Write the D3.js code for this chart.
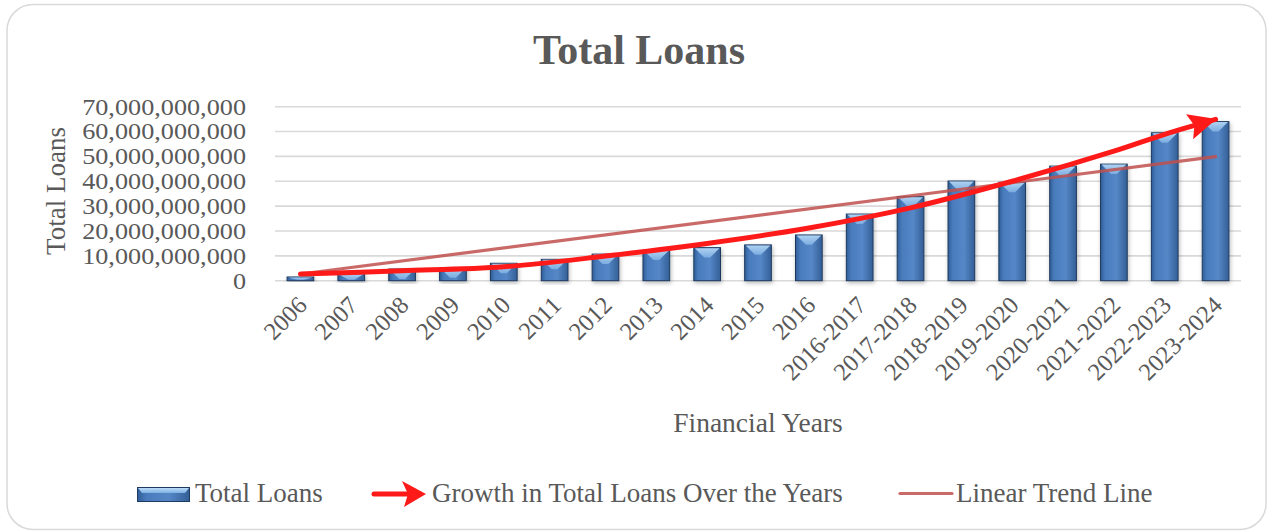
<!DOCTYPE html>
<html><head><meta charset="utf-8">
<script src="https://cdn.jsdelivr.net/npm/d3@7"></script>
<style>
body{margin:0;background:#fff}
svg{display:block}
text{font-family:"Liberation Serif","Times New Roman",serif;fill:#595959}
</style>
</head><body>
<svg id="c" width="1268" height="531"></svg>
<script>
// ---- data ----
const categories = ["2006","2007","2008","2009","2010","2011","2012","2013","2014","2015","2016",
  "2016-2017","2017-2018","2018-2019","2019-2020","2020-2021","2021-2022","2022-2023","2023-2024"];
const loans = [1.5e9, 2.8e9, 4.7e9, 5.2e9, 7.0e9, 8.6e9, 10.7e9, 12.3e9, 13.3e9, 14.4e9, 18.4e9,
  26.8e9, 33.8e9, 40.1e9, 39.6e9, 46.1e9, 46.9e9, 59.5e9, 64.0e9];
const growthIndex  = [0, 2, 4, 6, 8, 10, 12, 14, 16, 17, 18];
const growthValues = [2.7e9, 4.0e9, 5.6e9, 9.9e9, 15.0e9, 21.2e9, 29.3e9, 40.0e9, 52.1e9, 58.9e9, 64.9e9];
const trendIndex  = [0, 18];
const trendValues = [2.7e9, 49.9e9];
const yTicks = [0, 1e10, 2e10, 3e10, 4e10, 5e10, 6e10, 7e10];
const title = "Total Loans";
const yTitle = "Total Loans";
const xTitle = "Financial Years";
const legendLabels = ["Total Loans", "Growth in Total Loans Over the Years", "Linear Trend Line"];

// ---- layout ----
const svg = d3.select("#c");
const plot = {left: 275, right: 1241, top: 106.7, bottom: 280.7};
const x = d3.scaleBand().domain(categories).range([plot.left, plot.right]).paddingInner(0.475).paddingOuter(0.2375);
const xc = i => x(categories[i]) + x.bandwidth() / 2;
const y = d3.scaleLinear().domain([0, 7e10]).range([plot.bottom, plot.top]);

const defs = svg.append("defs");
const g1 = defs.append("linearGradient").attr("id", "barGrad").attr("x1", 0).attr("x2", 1).attr("y1", 0).attr("y2", 0);
g1.append("stop").attr("offset", "0%").attr("stop-color", "#2f5e98");
g1.append("stop").attr("offset", "18%").attr("stop-color", "#4a7cbd");
g1.append("stop").attr("offset", "60%").attr("stop-color", "#5587c7");
g1.append("stop").attr("offset", "100%").attr("stop-color", "#345f96");
const g2 = defs.append("linearGradient").attr("id", "bevGrad").attr("x1", 0).attr("x2", 0).attr("y1", 0).attr("y2", 1);
g2.append("stop").attr("offset", "0%").attr("stop-color", "#b9dbf7");
g2.append("stop").attr("offset", "100%").attr("stop-color", "#7fb0e3");
const f = defs.append("filter").attr("id", "shadow").attr("x", "-30%").attr("y", "-10%").attr("width", "160%").attr("height", "130%");
f.append("feDropShadow").attr("dx", 1).attr("dy", 2).attr("stdDeviation", 2).attr("flood-color", "#000").attr("flood-opacity", 0.28);

defs.append("marker").attr("id", "head").attr("markerUnits", "userSpaceOnUse")
  .attr("viewBox", "0 -15 30 30").attr("refX", 27).attr("refY", 0)
  .attr("markerWidth", 30).attr("markerHeight", 30).attr("orient", "auto")
  .append("path").attr("d", "M0,-13 L28,0 L0,13 L5,0 Z").attr("fill", "#ff1a1a");

// frame
svg.append("rect").attr("x", 7).attr("y", 4.5).attr("width", 1259).attr("height", 525).attr("rx", 26)
  .attr("fill", "#fff").attr("stroke", "#d9d9d9").attr("stroke-width", 1.5);

// title
svg.append("text").attr("x", 639).attr("y", 64).attr("text-anchor", "middle")
  .attr("font-size", 42).attr("font-weight", "bold").text(title);

// gridlines + y axis
const yAxis = d3.axisLeft(y).tickValues(yTicks).tickSize(0).tickPadding(0)
  .tickFormat(d => d3.format(",")(d));
const ya = svg.append("g").attr("transform", `translate(246,0)`).call(yAxis);
ya.select(".domain").remove();
ya.selectAll("text").attr("font-size", 23).attr("fill", "#595959").attr("font-family", "Liberation Serif")
  .attr("transform", "scale(1.14,1)");

svg.append("g").selectAll("line").data(yTicks).join("line")
  .attr("x1", plot.left).attr("x2", plot.right).attr("y1", d => y(d)).attr("y2", d => y(d))
  .attr("stroke", "#d9d9d9").attr("stroke-width", 1.6);

// x axis labels
const xAxis = d3.axisBottom(x).tickSize(0).tickPadding(0);
const xa = svg.append("g").attr("transform", `translate(0,${plot.bottom})`).call(xAxis);
xa.select(".domain").remove();
xa.selectAll("text").attr("font-size", 24.5).attr("fill", "#595959").attr("font-family", "Liberation Serif")
  .attr("text-anchor", "end").attr("dy", 0).attr("y", 0)
  .attr("transform", "translate(8,26) rotate(-45)");

// bars
const bars = svg.append("g").selectAll("g").data(loans).join("g");
bars.append("rect")
  .attr("x", (d, i) => x(categories[i])).attr("y", d => y(d))
  .attr("width", x.bandwidth()).attr("height", d => plot.bottom - y(d))
  .attr("fill", "url(#barGrad)").attr("stroke", "#1e3a5e").attr("stroke-width", 1)
  .attr("filter", "url(#shadow)");
bars.append("path").attr("d", (d, i) => {
  const x0 = x(categories[i]) + 1, w = x.bandwidth() - 2, t = y(d) + 0.5;
  const h = Math.min(plot.bottom - t - 1, w * 0.38);
  return `M${x0},${t} L${x0 + w},${t} L${x0 + w * 0.62},${t + h} L${x0 + w * 0.38},${t + h} Z`;
}).attr("fill", "url(#bevGrad)").attr("opacity", 0.9);

// trend line
svg.append("path").datum(trendIndex.map((k, j) => [xc(k), y(trendValues[j])]))
  .attr("d", d3.line()).attr("fill", "none").attr("stroke", "#c0504d").attr("stroke-opacity", 0.85)
  .attr("stroke-width", 3.2).attr("stroke-linecap", "round");

// growth arrow
svg.append("path").datum(growthIndex.map((k, j) => [xc(k), y(growthValues[j])]))
  .attr("d", d3.line().curve(d3.curveCatmullRom)).attr("fill", "none").attr("stroke", "#ff1a1a")
  .attr("stroke-width", 5).attr("stroke-linecap", "round").attr("marker-end", "url(#head)");

// axis titles
svg.append("text").attr("transform", "translate(65,191) rotate(-90)").attr("text-anchor", "middle")
  .attr("font-size", 27).text(yTitle);
svg.append("text").attr("x", (plot.left + plot.right) / 2).attr("y", 432).attr("text-anchor", "middle")
  .attr("font-size", 27.5).text(xTitle);

// legend
const lg = svg.append("g");
lg.append("rect").attr("x", 137.5).attr("y", 487.5).attr("width", 52).attr("height", 14)
  .attr("fill", "url(#barGrad)").attr("stroke", "#1e3a5e").attr("stroke-width", 1);
lg.append("path").attr("d", "M138,488 L189,488 L185,493 L142,493 Z").attr("fill", "url(#bevGrad)");
lg.append("text").attr("x", 195).attr("y", 502).attr("font-size", 27).text(legendLabels[0]);
lg.append("line").attr("x1", 374).attr("x2", 410).attr("y1", 494).attr("y2", 494)
  .attr("stroke", "#ff1a1a").attr("stroke-width", 5).attr("stroke-linecap", "round");
lg.append("path").attr("d", "M426,494 L402,481 L408,494 L404,507 Z").attr("fill", "#ff1a1a");
lg.append("text").attr("x", 432).attr("y", 502).attr("font-size", 27).text(legendLabels[1]);
lg.append("line").attr("x1", 900).attr("x2", 952).attr("y1", 493.5).attr("y2", 493.5)
  .attr("stroke", "#c0504d").attr("stroke-opacity", 0.85).attr("stroke-width", 3.2).attr("stroke-linecap", "round");
lg.append("text").attr("x", 956).attr("y", 502).attr("font-size", 27).text(legendLabels[2]);
</script>
</body></html>
